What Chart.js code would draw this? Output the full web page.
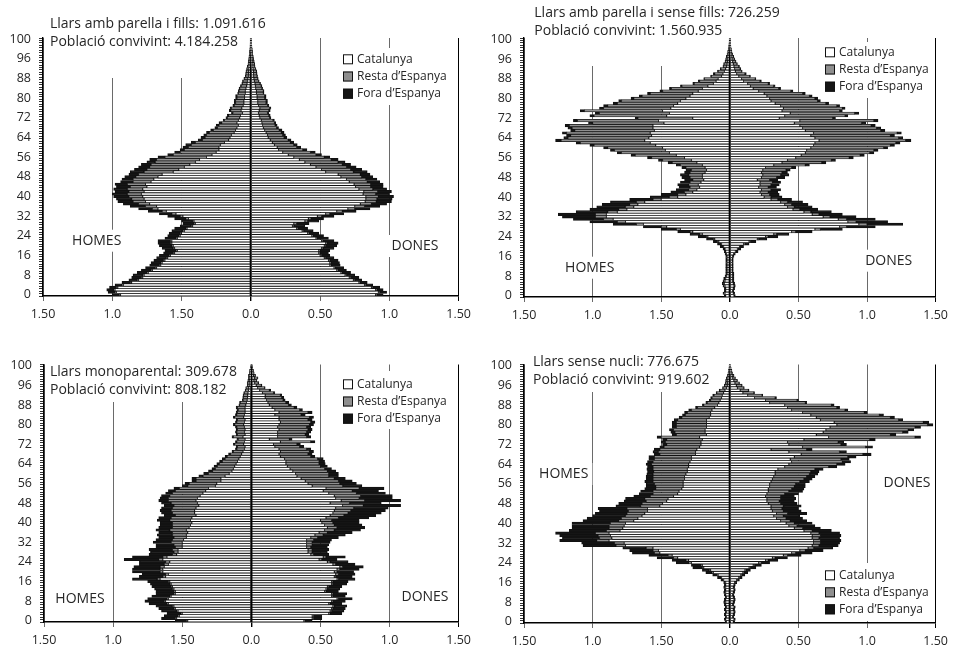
<!DOCTYPE html>
<html>
<head>
<meta charset="utf-8">
<title>Piràmides de població per tipus de llar</title>
<script src="https://cdn.jsdelivr.net/npm/chart.js@4.4.1/dist/chart.umd.min.js"></script>
<style>
  body { margin: 0; background: #fff; }
  #wrap { position: relative; width: 954px; height: 646px; overflow: hidden; }
  .panel { position: absolute; width: 477px; height: 323px; }
</style>
</head>
<body>
<div id="wrap">
  <div class="panel" style="left:0;top:0"><canvas id="c1" width="477" height="323"></canvas></div>
  <div class="panel" style="left:477px;top:0"><canvas id="c2" width="477" height="323"></canvas></div>
  <div class="panel" style="left:0;top:323px"><canvas id="c3" width="477" height="323"></canvas></div>
  <div class="panel" style="left:477px;top:323px"><canvas id="c4" width="477" height="323"></canvas></div>
</div>
<script>
// Categories and axis labels
const edats = Array.from({ length: 105 }, (_, i) => i)
const edatsTicks = [0, 8, 16, 24, 32, 40, 48, 56, 64, 72, 80, 88, 96, 104]
const edatsTicksText = ["0", "8", "16", "24", "32", "40", "48", "56", "64", "72", "80", "88", "96", "100"]
const xTicks = [-1.5, -1, -0.5, 0, 0.5, 1, 1.5]
const xTicksText = ["1,50", "1,0", "1,50", "0,0", "0,50", "1,0", "1,50"]
const serieNoms = ["Catalunya", "Resta d\u2019Espanya", "Fora d\u2019Espanya"]
const serieColors = ["#ffffff", "#8f8f8f", "#151515"]

// Llars amb parella i fills (% per edat, 0..104)
const fillsHomesCat = [
  .94, .97, .98, .96, .92, .86, .81, .78, .77, .74,
  .71, .68, .65, .64, .62, .60, .58, .55, .53, .55,
  .56, .57, .57, .53, .51, .50, .48, .46, .42, .40,
  .41, .45, .49, .54, .61, .67, .68, .73, .76, .77,
  .78, .79, .77, .78, .75, .76, .72, .70, .67, .64,
  .56, .52, .48, .44, .40, .37, .32, .28, .25, .23,
  .23, .22, .19, .16, .15, .14, .12, .11, .10, .09,
  .10, .09, .08, .075, .06, .07, .065, .055, .05, .05,
  .045, .045, .04, .04, .035, .03, .027, .025, .021, .017,
  .016, .015, .013, .011, .009, .008, .007, .006, .005, .004,
  .003, .003, .002, .002, .002]
const fillsHomesResta = [
  .01, .01, .01, .01, .01, .01, .01, .01, .01, .01,
  .01, .01, .01, .01, .01, .01, .01, .01, .01, .01,
  .01, .01, .01, .01, .01, .01, .01, .01, .01, .01,
  .01, .02, .02, .03, .03, .04, .08, .08, .09, .09,
  .10, .10, .11, .11, .12, .13, .13, .15, .16, .17,
  .21, .23, .25, .28, .29, .31, .30, .28, .26, .25,
  .22, .21, .21, .19, .18, .18, .18, .16, .14, .14,
  .11, .10, .09, .085, .07, .075, .075, .065, .06, .06,
  .055, .055, .05, .045, .045, .04, .034, .031, .026, .02,
  .019, .018, .015, .012, .01, .009, .007, .006, .005, .004,
  .003, .003, .002, .002, .001]
const fillsHomesFora = [
  .05, .05, .05, .05, .05, .06, .06, .07, .07, .07,
  .07, .07, .07, .07, .07, .07, .07, .07, .08, .08,
  .09, .09, .09, .08, .08, .08, .08, .08, .08, .08,
  .08, .08, .09, .09, .10, .10, .11, .11, .11, .11,
  .11, .11, .10, .10, .10, .09, .09, .08, .08, .07,
  .10, .09, .08, .07, .06, .05, .05, .04, .04, .03,
  .04, .04, .03, .03, .03, .02, .02, .02, .02, .02,
  .02, .01, .01, .01, .01, .01, .01, .01, .01, .01,
  .01, .01, .005, .005, .005, .005, .004, .004, .003, .003,
  .002, .002, .002, .002, .001, .001, .001, .001, .001, .001,
  .001, 0, .001, 0, 0]
const fillsDonesCat = [
  .90, .92, .90, .87, .82, .78, .74, .71, .68, .65,
  .62, .60, .57, .57, .56, .53, .50, .49, .49, .51,
  .53, .54, .51, .47, .44, .41, .37, .33, .30, .31,
  .39, .415, .48, .54, .62, .70, .75, .79, .825, .83,
  .83, .81, .815, .78, .755, .745, .71, .69, .65, .63,
  .54, .51, .47, .43, .39, .35, .31, .27, .23, .20,
  .19, .17, .155, .14, .125, .12, .11, .10, .09, .085,
  .08, .075, .065, .06, .055, .06, .065, .055, .05, .05,
  .045, .045, .04, .04, .035, .033, .03, .025, .022, .02,
  .019, .018, .015, .013, .012, .01, .009, .008, .006, .005,
  .004, .004, .003, .002, .002]
const fillsDonesResta = [
  .01, .01, .01, .01, .01, .01, .01, .01, .01, .01,
  .01, .01, .01, .01, .01, .01, .01, .01, .01, .01,
  .01, .01, .01, .01, .01, .01, .01, .01, .01, .02,
  .02, .02, .03, .03, .04, .05, .07, .08, .08, .08,
  .09, .09, .10, .10, .11, .12, .13, .14, .15, .16,
  .20, .21, .22, .23, .24, .23, .22, .20, .20, .175,
  .14, .14, .13, .13, .115, .11, .11, .105, .095, .09,
  .09, .085, .07, .07, .065, .07, .07, .065, .06, .06,
  .055, .055, .05, .05, .045, .042, .036, .031, .027, .025,
  .023, .022, .019, .015, .014, .012, .01, .008, .007, .006,
  .005, .004, .003, .003, .002]
const fillsDonesFora = [
  .045, .05, .045, .05, .05, .05, .05, .06, .06, .06,
  .06, .06, .065, .06, .06, .06, .06, .06, .07, .08,
  .08, .08, .08, .08, .075, .07, .07, .07, .08, .09,
  .08, .09, .09, .10, .10, .11, .11, .11, .11, .11,
  .11, .10, .10, .10, .09, .09, .09, .08, .08, .07,
  .10, .08, .07, .06, .05, .05, .04, .04, .035, .03,
  .03, .025, .025, .02, .02, .02, .02, .02, .015, .015,
  .01, .01, .01, .01, .01, .01, .01, .01, .01, .01,
  .01, .01, .005, .005, .005, .005, .004, .004, .004, .003,
  .003, .003, .002, .002, .002, .002, .001, .001, .001, .001,
  .001, 0, 0, 0, 0]

// Llars amb parella i sense fills
const senseHomesCat = [
  .03, .035, .03, .03, .035, .04, .035, .03, .025, .02,
  .02, .02, .02, .02, .02, .02, .02, .025, .03, .035,
  .045, .06, .08, .11, .16, .20, .27, .36, .46, .63,
  .76, .85, .90, .90, .82, .75, .70, .67, .62, .50,
  .38, .32, .27, .24, .22, .23, .21, .19, .20, .20,
  .18, .17, .18, .20, .24, .28, .33, .39, .44, .47,
  .49, .54, .58, .62, .59, .57, .58, .55, .56, .56,
  .48, .52, .27, .46, .44, .49, .43, .41, .38, .36,
  .32, .29, .27, .23, .20, .16, .12, .10, .085, .06,
  .05, .04, .03, .022, .02, .015, .013, .011, .009, .007,
  .005, .004, .003, .002, .002]
const senseHomesResta = [
  0, .005, 0, 0, .005, .005, .005, .005, 0, 0,
  0, 0, 0, 0, 0, 0, 0, 0, 0, 0,
  .005, .005, .01, .01, .01, .02, .02, .03, .04, .05,
  .06, .07, .08, .08, .07, .06, .06, .06, .06, .06,
  .06, .06, .06, .06, .07, .07, .08, .08, .09, .10,
  .11, .11, .14, .16, .18, .21, .24, .30, .35, .37,
  .40, .45, .51, .61, .59, .59, .61, .58, .59, .61,
  .52, .59, .40, .53, .51, .57, .49, .48, .44, .43,
  .38, .35, .31, .26, .225, .19, .14, .12, .10, .075,
  .06, .045, .035, .025, .022, .018, .015, .012, .01, .007,
  .006, .005, .004, .003, .002]
const senseHomesFora = [
  .01, .01, .01, .01, .01, .01, .01, .01, .01, .01,
  .01, .01, .01, .01, .01, .01, .01, .01, .01, .015,
  .02, .025, .03, .05, .06, .07, .09, .11, .13, .17,
  .20, .22, .24, .27, .23, .21, .21, .20, .19, .17,
  .14, .12, .10, .09, .08, .08, .07, .06, .06, .06,
  .04, .04, .03, .03, .03, .03, .03, .03, .03, .03,
  .03, .03, .03, .04, .03, .03, .03, .03, .03, .03,
  .03, .03, .02, .03, .03, .03, .03, .03, .03, .02,
  .02, .02, .02, .02, .015, .01, .01, .01, .005, .005,
  .01, .005, .005, .003, .003, .002, .002, .002, .001, .001,
  .001, 0, 0, 0, 0]
const senseDonesCat = [
  .03, .025, .02, .025, .03, .025, .02, .02, .02, .02,
  .018, .018, .018, .018, .018, .018, .02, .028, .04, .055,
  .07, .10, .14, .20, .26, .32, .45, .62, .80, .94,
  .86, .79, .68, .60, .54, .46, .42, .40, .37, .30,
  .25, .23, .22, .23, .21, .22, .22, .20, .23, .24,
  .23, .24, .26, .32, .38, .42, .48, .52, .55, .56,
  .59, .61, .62, .65, .62, .59, .61, .55, .53, .51,
  .47, .51, .36, .40, .44, .38, .39, .37, .33, .30,
  .29, .27, .25, .21, .17, .15, .13, .10, .085, .065,
  .05, .04, .035, .03, .025, .02, .015, .012, .009, .007,
  .005, .004, .003, .002, .0015]
const senseDonesResta = [
  0, 0, 0, 0, 0, 0, 0, 0, 0, 0,
  0, 0, 0, 0, 0, 0, 0, 0, .005, .005,
  .005, .01, .01, .01, .02, .02, .03, .04, .05, .06,
  .06, .06, .05, .05, .05, .05, .05, .05, .05, .05,
  .05, .06, .06, .07, .07, .08, .09, .09, .11, .13,
  .15, .17, .19, .23, .29, .32, .39, .43, .47, .49,
  .53, .56, .59, .63, .61, .58, .61, .55, .54, .52,
  .49, .54, .39, .44, .47, .42, .43, .41, .37, .34,
  .33, .31, .28, .235, .185, .17, .15, .12, .10, .08,
  .06, .045, .04, .035, .027, .022, .018, .014, .01, .007,
  .005, .004, .003, .002, .0015]
const senseDonesFora = [
  .01, .01, .01, .01, .01, .01, .01, .01, .01, .01,
  .007, .007, .007, .007, .007, .007, .01, .012, .015, .02,
  .025, .03, .04, .06, .07, .09, .12, .16, .21, .26,
  .23, .21, .19, .17, .15, .13, .13, .12, .11, .10,
  .08, .07, .07, .07, .06, .06, .06, .06, .06, .06,
  .04, .03, .03, .03, .03, .03, .03, .03, .03, .03,
  .03, .03, .03, .04, .03, .03, .03, .03, .03, .03,
  .03, .03, .02, .02, .03, .02, .02, .02, .02, .02,
  .02, .02, .02, .015, .015, .01, .01, .01, .005, .005,
  .01, .005, .005, .005, .003, .003, .002, .002, .001, .001,
  .001, 0, 0, 0, 0]

// Llars monoparentals
const monoHomesCat = [
  .46, .54, .52, .50, .53, .55, .56, .60, .62, .60,
  .58, .55, .55, .56, .57, .58, .59, .66, .62, .60,
  .64, .64, .63, .60, .59, .64, .61, .54, .53, .53,
  .50, .50, .50, .49, .47, .47, .46, .47, .45, .44,
  .43, .44, .43, .40, .41, .41, .40, .38, .39, .40,
  .39, .37, .35, .33, .31, .26, .25, .22, .22, .19,
  .16, .14, .13, .12, .11, .10, .09, .08, .07, .06,
  .05, .045, .055, .05, .045, .06, .045, .05, .045, .05,
  .055, .05, .045, .055, .05, .045, .045, .045, .04, .035,
  .03, .027, .026, .024, .02, .018, .013, .013, .011, .009,
  .009, .007, .005, .004, .002]
const monoHomesResta = [
  .01, .01, .01, .01, .01, .01, .01, .01, .01, .01,
  .01, .01, .01, .01, .01, .01, .01, .02, .02, .02,
  .02, .02, .03, .03, .03, .03, .03, .03, .03, .04,
  .05, .06, .08, .08, .09, .10, .11, .12, .12, .13,
  .14, .15, .15, .15, .16, .17, .17, .18, .19, .20,
  .21, .22, .22, .22, .21, .20, .20, .18, .18, .16,
  .15, .14, .13, .125, .12, .11, .10, .095, .08, .07,
  .055, .055, .065, .055, .05, .07, .055, .055, .055, .055,
  .065, .055, .055, .065, .055, .055, .05, .055, .045, .045,
  .03, .03, .03, .027, .022, .02, .015, .015, .012, .01,
  .01, .007, .006, .004, .003]
const monoHomesFora = [
  .08, .10, .10, .10, .11, .11, .12, .13, .14, .14,
  .13, .13, .13, .13, .14, .14, .15, .18, .17, .17,
  .20, .20, .19, .18, .19, .25, .22, .17, .17, .17,
  .14, .13, .13, .12, .11, .11, .10, .10, .10, .09,
  .09, .09, .09, .08, .08, .08, .08, .07, .07, .07,
  .06, .06, .05, .05, .04, .04, .03, .03, .03, .03,
  .035, .03, .025, .025, .02, .02, .02, .015, .015, .01,
  .01, .01, .01, .01, .01, .01, .01, .01, .01, .01,
  .01, .01, .01, .01, .01, .01, .01, .01, .005, .005,
  .005, .005, .004, .004, .003, .002, .002, .002, .002, .001,
  .001, .001, .001, 0, 0]
const monoDonesCat = [
  .38, .44, .44, .56, .57, .58, .59, .56, .58, .62,
  .58, .58, .53, .54, .55, .58, .58, .62, .60, .61,
  .60, .62, .64, .59, .55, .49, .52, .43, .41, .41,
  .40, .40, .40, .40, .43, .46, .49, .53, .55, .53,
  .51, .50, .54, .57, .59, .60, .61, .66, .57, .65,
  .61, .60, .56, .52, .54, .44, .41, .39, .36, .33,
  .32, .30, .28, .26, .25, .25, .24, .21, .20, .21,
  .20, .17, .16, .21, .13, .19, .19, .19, .20, .19,
  .20, .21, .20, .20, .17, .20, .17, .15, .13, .12,
  .11, .10, .10, .08, .06, .045, .035, .024, .018, .022,
  .014, .009, .007, .005, .003]
const monoDonesResta = [
  .01, .01, .01, .01, .01, .01, .01, .01, .01, .01,
  .01, .01, .01, .01, .01, .01, .01, .01, .01, .02,
  .02, .02, .02, .02, .02, .02, .02, .02, .03, .03,
  .03, .04, .04, .05, .05, .06, .06, .07, .07, .07,
  .08, .08, .09, .10, .11, .12, .13, .15, .14, .17,
  .17, .19, .20, .21, .24, .22, .23, .24, .24, .23,
  .24, .25, .25, .24, .24, .24, .24, .22, .21, .21,
  .20, .18, .17, .22, .145, .21, .20, .21, .21, .21,
  .22, .22, .21, .22, .19, .21, .18, .16, .14, .13,
  .12, .12, .11, .08, .07, .05, .037, .026, .02, .023,
  .014, .01, .007, .005, .003]
const monoDonesFora = [
  .05, .06, .06, .085, .09, .09, .09, .085, .09, .10,
  .09, .10, .09, .09, .095, .10, .11, .12, .12, .12,
  .12, .14, .15, .14, .13, .11, .14, .11, .11, .12,
  .12, .12, .13, .13, .15, .16, .18, .19, .20, .20,
  .19, .20, .22, .23, .24, .25, .25, .27, .23, .26,
  .24, .23, .21, .19, .18, .14, .12, .10, .08, .07,
  .07, .06, .05, .05, .045, .04, .04, .03, .03, .03,
  .03, .03, .025, .03, .02, .03, .025, .03, .03, .03,
  .03, .03, .03, .03, .03, .03, .02, .02, .02, .02,
  .015, .015, .01, .01, .01, .005, .005, .003, .002, .003,
  .002, .001, .001, 0, 0]

// Llars sense nucli
const nucliHomesCat = [
  .025, .03, .025, .03, .025, .03, .025, .03, .03, .03,
  .025, .03, .03, .03, .03, .03, .03, .045, .06, .085,
  .12, .14, .19, .20, .28, .30, .38, .42, .51, .52,
  .56, .76, .77, .88, .86, .87, .88, .80, .78, .77,
  .76, .70, .67, .64, .62, .60, .60, .51, .49, .46,
  .45, .41, .38, .37, .35, .34, .34, .34, .33, .33,
  .32, .31, .31, .30, .30, .29, .28, .28, .25, .25,
  .24, .22, .21, .21, .20, .22, .17, .18, .18, .17,
  .17, .17, .17, .15, .14, .14, .13, .11, .09, .08,
  .07, .06, .055, .045, .035, .024, .018, .015, .013, .011,
  .008, .006, .005, .003, .002]
const nucliHomesResta = [
  0, 0, 0, 0, 0, 0, 0, 0, .005, 0,
  0, 0, .005, 0, .005, 0, .005, .005, .005, .005,
  .01, .01, .01, .01, .02, .02, .03, .03, .04, .04,
  .05, .07, .07, .09, .09, .09, .10, .10, .10, .11,
  .11, .11, .12, .12, .13, .14, .15, .14, .15, .15,
  .17, .17, .18, .19, .19, .20, .21, .22, .23, .23,
  .24, .245, .25, .26, .27, .27, .27, .27, .26, .27,
  .27, .26, .25, .26, .26, .28, .22, .22, .23, .22,
  .22, .22, .21, .20, .185, .17, .15, .125, .10, .085,
  .07, .07, .06, .05, .038, .026, .02, .017, .015, .012,
  .008, .006, .005, .004, .003]
const nucliHomesFora = [
  .01, .01, .01, .01, .01, .01, .01, .01, .01, .01,
  .01, .01, .01, .01, .01, .01, .01, .015, .025, .035,
  .045, .05, .07, .07, .09, .10, .12, .14, .16, .17,
  .17, .24, .24, .27, .27, .28, .29, .27, .27, .27,
  .28, .26, .25, .24, .23, .21, .21, .18, .17, .16,
  .14, .12, .10, .09, .08, .07, .06, .06, .05, .05,
  .045, .045, .045, .04, .04, .04, .04, .04, .04, .04,
  .04, .03, .03, .03, .03, .03, .03, .03, .03, .03,
  .03, .03, .025, .02, .02, .02, .02, .015, .01, .01,
  .01, .01, .01, .005, .005, .003, .002, .002, .002, .002,
  .001, .001, 0, 0, 0]
const nucliDonesCat = [
  .025, .03, .02, .025, .03, .025, .03, .02, .025, .03,
  .025, .02, .025, .03, .025, .03, .035, .05, .065, .08,
  .095, .11, .14, .17, .21, .26, .31, .39, .45, .51,
  .57, .60, .61, .61, .60, .60, .59, .54, .47, .43,
  .41, .37, .34, .32, .34, .31, .30, .30, .28, .27,
  .27, .26, .27, .28, .28, .29, .29, .30, .31, .32,
  .33, .33, .35, .40, .43, .45, .44, .47, .52, .43,
  .30, .53, .43, .42, .54, .72, .63, .68, .70, .73,
  .78, .76, .66, .63, .59, .53, .45, .42, .40, .29,
  .26, .18, .13, .095, .075, .055, .047, .037, .029, .021,
  .016, .011, .008, .005, .003]
const nucliDonesResta = [
  0, 0, 0, 0, 0, 0, 0, 0, 0, 0,
  0, 0, 0, 0, 0, 0, .005, .005, .005, .005,
  .005, .005, .01, .01, .02, .02, .02, .03, .03, .04,
  .04, .05, .05, .05, .05, .06, .06, .06, .06, .06,
  .06, .07, .07, .07, .08, .08, .08, .09, .09, .09,
  .10, .11, .13, .15, .17, .18, .19, .21, .23, .24,
  .25, .26, .27, .32, .35, .37, .37, .39, .45, .37,
  .26, .46, .38, .37, .48, .63, .54, .58, .60, .62,
  .66, .65, .57, .54, .50, .45, .39, .36, .34, .26,
  .23, .15, .105, .08, .06, .047, .04, .031, .024, .018,
  .013, .009, .007, .005, .003]
const nucliDonesFora = [
  .01, .01, .01, .01, .01, .01, .01, .01, .01, .01,
  .01, .01, .01, .01, .01, .01, .01, .015, .02, .025,
  .03, .035, .04, .05, .06, .07, .09, .10, .12, .13,
  .14, .14, .14, .15, .15, .15, .15, .14, .13, .13,
  .13, .12, .12, .12, .14, .13, .12, .13, .12, .11,
  .11, .10, .10, .10, .09, .08, .07, .07, .06, .06,
  .06, .06, .06, .06, .06, .06, .06, .06, .06, .05,
  .04, .05, .04, .04, .04, .04, .04, .04, .04, .04,
  .04, .04, .03, .03, .03, .02, .02, .02, .02, .01,
  .01, .01, .005, .005, .005, .003, .003, .002, .002, .001,
  .001, 0, 0, 0, 0]

// Panel layout (canvas coordinates)
const panels = [
  {
    id: "c1",
    titol: ["Llars amb parella i fills: 1.091.616", "Població convivint: 4.184.258"],
    homes: [fillsHomesCat, fillsHomesResta, fillsHomesFora],
    dones: [fillsDonesCat, fillsDonesResta, fillsDonesFora],
    area: { left: 43, right: 18, top: 38, bottom: 5 },
    titolPos: [50, 24, 41.7], titolBlank: [45, 0, 246, 78],
    llegenda: [343, 59.3, 17.2], llegendaBlank: [336, 48, 452, 105],
    homesPos: [96.7, 240.7], donesPos: [415, 246],
  },
  {
    id: "c2",
    titol: ["Llars amb parella i sense fills: 726.259", "Població convivint: 1.560.935"],
    homes: [senseHomesCat, senseHomesResta, senseHomesFora],
    dones: [senseDonesCat, senseDonesResta, senseDonesFora],
    area: { left: 47, right: 16, top: 38, bottom: 4 },
    titolPos: [57.3, 12.7, 30.7], titolBlank: [50, 0, 248, 66],
    llegenda: [348, 52.3, 17.2], llegendaBlank: [342, 42, 458, 98],
    homesPos: [112.7, 267.7], donesPos: [411.7, 260.7],
  },
  {
    id: "c3",
    titol: ["Llars monoparental: 309.678", "Població convivint: 808.182"],
    homes: [monoHomesCat, monoHomesResta, monoHomesFora],
    dones: [monoDonesCat, monoDonesResta, monoDonesFora],
    area: { left: 44, right: 17, top: 41.5, bottom: 2 },
    titolPos: [50, 49, 66.7], titolBlank: [47, 0, 246, 79],
    llegenda: [343, 61.3, 17.2], llegendaBlank: [336, 48, 452, 106],
    homesPos: [80, 276], donesPos: [425, 274],
  },
  {
    id: "c4",
    titol: ["Llars sense nucli: 776.675", "Població convivint: 919.602"],
    homes: [nucliHomesCat, nucliHomesResta, nucliHomesFora],
    dones: [nucliDonesCat, nucliDonesResta, nucliDonesFora],
    area: { left: 47, right: 17, top: 41.5, bottom: 1 },
    titolPos: [56, 39, 57.3], titolBlank: [50, 0, 250, 69],
    llegenda: [348, 252.3, 17], llegendaBlank: [342, 240, 458, 298],
    homesPos: [86.7, 151], donesPos: [430, 160],
  },
]

const textColor = "#262626"
const fontFamily = "'Open Sans', 'Noto Sans', sans-serif"

// Blank boxes behind the labels, then texts and legend
const textosPlugin = {
  id: "textos",
  beforeDatasetsDraw(chart, args, p) {
    const ctx = chart.ctx
    ctx.save()
    ctx.fillStyle = "#fff"
    const blanks = [p.titolBlank, p.llegendaBlank]
    blanks.forEach((r) => ctx.fillRect(r[0], r[1], r[2] - r[0], r[3] - r[1]))
    ctx.font = "14px " + fontFamily
    ;[["HOMES", p.homesPos], ["DONES", p.donesPos]].forEach(([t, pos]) => {
      const w = ctx.measureText(t).width
      ctx.fillRect(pos[0] - w / 2 - 4, pos[1] - 11, w + 8, 22)
    })
    ctx.restore()
  },
  afterDatasetsDraw(chart, args, p) {
    const ctx = chart.ctx
    ctx.save()
    ctx.fillStyle = textColor
    ctx.textBaseline = "middle"
    ctx.font = "14px " + fontFamily
    ctx.textAlign = "left"
    ctx.fillText(p.titol[0], p.titolPos[0], p.titolPos[1])
    ctx.fillText(p.titol[1], p.titolPos[0], p.titolPos[2])

    ctx.textAlign = "center"
    ctx.fillText("HOMES", p.homesPos[0], p.homesPos[1])
    ctx.fillText("DONES", p.donesPos[0], p.donesPos[1])

    // Legend
    ctx.font = "12px " + fontFamily
    ctx.textAlign = "left"
    serieNoms.forEach((nom, i) => {
      const y = p.llegenda[1] + i * p.llegenda[2]
      ctx.fillStyle = serieColors[i]
      ctx.fillRect(p.llegenda[0], y - 5, 10, 10)
      ctx.strokeStyle = "#111"
      ctx.lineWidth = 1
      ctx.strokeRect(p.llegenda[0] + 0.5, y - 4.5, 9, 9)
      ctx.fillStyle = textColor
      ctx.fillText(nom, p.llegenda[0] + 14, y)
    })
    ctx.restore()
  },
}

function barres(label, data, color) {
  return {
    label: label,
    data: data,
    backgroundColor: color,
    borderColor: "#111",
    borderWidth: 0.8,
    borderSkipped: false,
    barPercentage: 1,
    categoryPercentage: 1,
  }
}

function crearPiramide(p) {
  const ctx = document.getElementById(p.id).getContext("2d")
  const datasets = []
  p.homes.forEach((serie, i) => datasets.push(barres(serieNoms[i], serie.map((v) => -v), serieColors[i])))
  p.dones.forEach((serie, i) => datasets.push(barres(serieNoms[i], serie, serieColors[i])))

  return new Chart(ctx, {
    type: "bar",
    data: { labels: edats, datasets: datasets },
    plugins: [textosPlugin],
    options: {
      indexAxis: "y",
      responsive: false,
      animation: false,
      layout: { padding: { left: 0, right: p.area.right, top: p.area.top, bottom: p.area.bottom } },
      scales: {
        x: {
          type: "linear",
          min: -1.5,
          max: 1.5,
          stacked: true,
          afterFit: (s) => { s.height = 22 },
          ticks: {
            stepSize: 0.5,
            color: textColor,
            padding: 6,
            font: { family: fontFamily, size: 12.5 },
            callback: (v) => {
              const k = xTicks.findIndex((t) => Math.abs(t - v) < 1e-6)
              return k >= 0 ? xTicksText[k] : ""
            },
          },
          grid: {
            color: (c) => (Math.abs(c.tick.value) < 1e-6 || c.tick.value > 1.49 ? "#000" : "#6a6a6a"),
            lineWidth: (c) => (Math.abs(c.tick.value) < 1e-6 ? 1.4 : 1),
            tickLength: 5,
          },
          border: { color: "#000", width: 1.4 },
        },
        y: {
          type: "category",
          reverse: true,
          stacked: true,
          afterFit: (s) => { s.width = p.area.left },
          ticks: {
            autoSkip: false,
            color: textColor,
            padding: 8,
            font: { family: fontFamily, size: 12.5 },
            callback: (v, i) => {
              const k = edatsTicks.indexOf(i)
              return k >= 0 ? edatsTicksText[k] : ""
            },
          },
          grid: { drawOnChartArea: false, tickLength: 4, color: "#000", lineWidth: 0.8 },
          border: { color: "#000", width: 1.4 },
        },
      },
      plugins: {
        legend: { display: false },
        tooltip: { enabled: false },
        textos: p,
      },
    },
  })
}

panels.forEach(crearPiramide)
</script>
</body>
</html>
